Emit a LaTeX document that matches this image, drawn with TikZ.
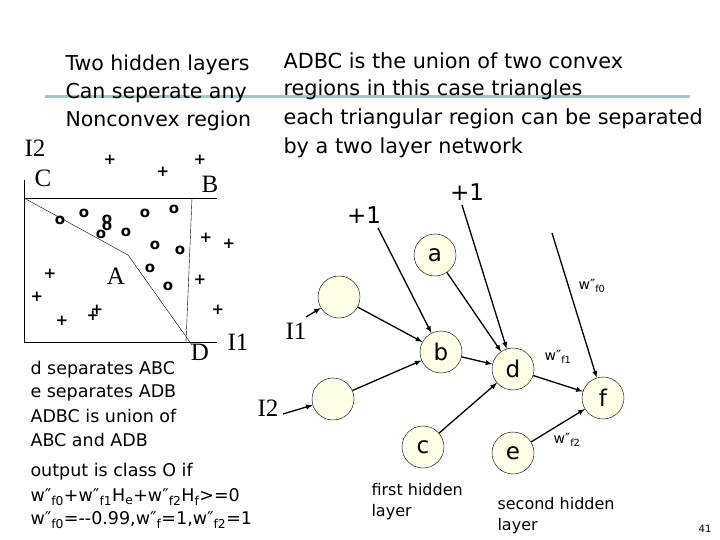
\documentclass[tikz,border=0pt]{standalone}
\usepackage{fontspec}
\setmainfont{DejaVu Sans}
\newfontfamily\serifl{Liberation Serif}
\begin{document}
\begin{tikzpicture}[x=1pt,y=-1pt,
  neuron/.style={circle,draw=black,fill=yellow!10,minimum size=42pt,inner sep=0pt,font=\fontsize{23}{23}\selectfont},
  arr/.style={-latex,line width=1.3pt},
  ttl/.style={anchor=west,font=\fontsize{20.5}{20.5}\selectfont},
  ttr/.style={anchor=west,font=\fontsize{20.8}{20.8}\selectfont},
  lt/.style={anchor=west,font=\fontsize{17.5}{17.5}\selectfont},
  sym/.style={font=\fontsize{15}{15}\selectfont\bfseries},
  lbl/.style={font=\serifl\fontsize{25}{25}\selectfont},
  wl/.style={font=\fontsize{14}{14}\selectfont}]
\useasboundingbox (0,0) rectangle (720,540);
\draw[teal!40,line width=3pt] (45,97) -- (690,97);
% titles
\node[ttl] (t1) at (62,65) {Two hidden layers};
\node[ttl] (t2) at (62,93) {Can seperate any};
\node[ttl] (t3) at (62,121) {Nonconvex region};
\node[ttr] (r1) at (280,61) {ADBC is the union of two convex};
\node[ttr] (r2) at (280,90) {regions in this case triangles};
\node[ttr] (r3) at (280,119) {each triangular region can be separated};
\node[ttr] (r4) at (280,148) {by a two layer network};
% plot
\coordinate (o0) at (24,342);
\draw (24,180) -- (o0) -- (217,342);
\draw (24,198) -- (217,198);
\draw (192,198) -- (186,342);
\draw (24,198) -- (128,255) -- (192,345);
\node[lbl] (li2) at (35,148) {I2};
\node[lbl] (lc) at (43,178) {C};
\node[lbl] (lb) at (210,184) {B};
\node[lbl] (la) at (116,276) {A};
\node[lbl] (ld) at (200,352) {D};
\node[lbl] (li1) at (238,342) {I1};
\foreach \p [count=\i] in {(110,160),(163,172),(200,160),(206,238),(229,244),(50,274),(37,297),(62,321),(93,316),(97,310),(200,280),(218,310)}
  \node[sym] (p\i) at \p {+};
\foreach \p [count=\i] in {(60,220),(84,213),(107,219),(107,226),(101,234),(126,232),(145,213),(174,209),(155,245),(180,250),(150,268),(168,286)}
  \node[sym] (q\i) at \p {o};
% left text
\node[lt] (x1) at (27,370) {d separates ABC};
\node[lt] (x2) at (27,393) {e separates ADB};
\node[lt] (x3) at (27,416) {ADBC is union of};
\node[lt] (x4) at (27,440) {ABC and ADB};
\node[lt] (x5) at (27,472) {output is class O if};
\node[lt] (x6) at (27,497) {w″\textsubscript{f0}+w″\textsubscript{f1}H\textsubscript{e}+w″\textsubscript{f2}H\textsubscript{f}>=0};
\node[lt] (x7) at (27,520) {w″\textsubscript{f0}={-}{-}0.99,w″\textsubscript{f}=1,w″\textsubscript{f2}=1};
% network
\node[neuron] (in1) at (339,297) {};
\node[neuron] (in2) at (333,399) {};
\node[neuron] (a) at (435,255) {a};
\node[neuron] (b) at (441,352) {b};
\node[neuron] (c) at (423,447) {c};
\node[neuron] (d) at (513,369) {d};
\node[neuron] (e) at (513,453) {e};
\node[neuron] (f) at (603,398) {f};
\node[lbl] (ni1) at (296,331) {I1};
\node[lbl] (ni2) at (268,408) {I2};
\coordinate (ni1e) at (306,317);
\coordinate (ni2e) at (283,414);
\node[font=\fontsize{23}{23}\selectfont] (pl1) at (364,215) {+1};
\node[font=\fontsize{23}{23}\selectfont] (pl2) at (467,192) {+1};
\coordinate (pl1s) at (378,228);
\coordinate (pl2s) at (462,205);
\coordinate (fs) at (552,233);
\draw[arr] (ni1e) -- (in1);
\draw[arr] (ni2e) -- (in2);
\draw[arr] (in1) -- (b);
\draw[arr] (in2) -- (b);
\draw[arr] (pl1s) -- (b);
\draw[arr] (pl2s) -- (d);
\draw[arr] (a) -- (d);
\draw[arr] (b) -- (d);
\draw[arr] (c) -- (d);
\draw[arr] (d) -- (f);
\draw[arr] (e) -- (f);
\draw[arr] (fs) -- (f);
\node[wl] (w0) at (592,286) {w″\textsubscript{f0}};
\node[wl] (w1) at (558,357) {w″\textsubscript{f1}};
\node[wl] (w2) at (567,440) {w″\textsubscript{f2}};
\node[anchor=north west,align=left,font=\fontsize{16}{21}\selectfont] (fh) at (368,480) {first hidden\\layer};
\node[anchor=north west,align=left,font=\fontsize{16}{21}\selectfont] (sh) at (494,494) {second hidden\\layer};
\node[font=\fontsize{10}{10}\selectfont] (pg) at (705,529) {41};
\end{tikzpicture}
\end{document}
